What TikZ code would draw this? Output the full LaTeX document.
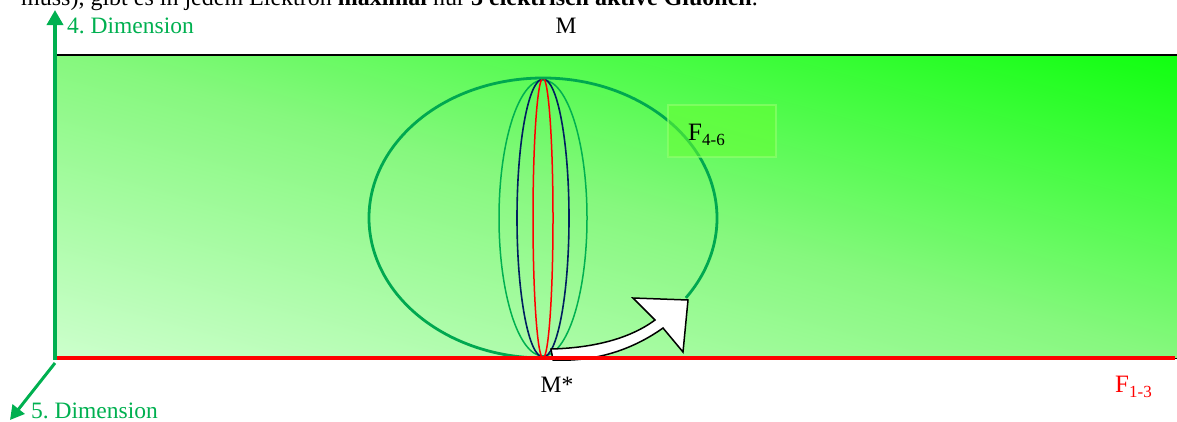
\documentclass[tikz,border=0pt]{standalone}
\usepackage{fontspec}
\setmainfont{Liberation Serif}
\usetikzlibrary{arrows.meta,calc}
\frenchspacing
\definecolor{dimgreen}{HTML}{00B050}
\definecolor{ringgreen}{HTML}{00A850}
\definecolor{navyring}{HTML}{002060}
\definecolor{bgtop}{HTML}{10FF10}
\definecolor{bgmid}{HTML}{86F87E}
\definecolor{bgbot}{HTML}{CCFFCC}
\definecolor{fbox}{HTML}{66FF33}
\tikzset{
  axisline/.style={dimgreen, line width=3.5pt, -{Triangle[width=16pt,length=15pt]}},
  dimlabel/.style={text=dimgreen, inner sep=0pt, anchor=base west, font=\fontsize{23.5}{28}\selectfont},
  plainlabel/.style={inner sep=0pt, anchor=base, font=\fontsize{23.5}{28}\selectfont},
  thinring/.style={line width=1.5pt},
}
\begin{document}
\begin{tikzpicture}[x=1pt,y=-1pt]
\useasboundingbox (0,0) rectangle (1177,421);
\begin{scope}
\clip (0,0) rectangle (1177,421);
\node[inner sep=0pt, anchor=base west, font=\fontsize{24}{28}\selectfont] (toptext) at (21,5) {muss), gibt es in jedem Elektron \textbf{maximal} nur \textbf{3 elektrisch aktive Gluonen}.};
\end{scope}
% background (diagonal gradient)
\begin{scope}
\clip (57,55) rectangle (1177,358);
\shade[transform canvas={rotate around={-15.1:(617,206.5)}}, bottom color=bgbot, top color=bgtop, middle color=bgmid] (-3,-85) rectangle (1237,498);
\end{scope}
% centre
\coordinate (c) at (543,218);
% inner rings
\draw[thinring, dimgreen] (c) ellipse [x radius=44, y radius=138];
\draw[line width=1.6pt, navyring] (c) ellipse [x radius=26, y radius=139];
\draw[thinring, red] (c) ellipse [x radius=10, y radius=140];
% big ring (open arc)
\draw[ringgreen, line width=2.8pt] ($(c)+(34.8:174 and 140)$) arc[start angle=34.8, end angle=-270, x radius=174, y radius=140];
% F 4-6 box
\node[fill=fbox, fill opacity=0.55, draw=fbox!70!white, draw opacity=0.6, line width=1.5pt, minimum width=108pt, minimum height=52pt, inner sep=0pt] (fboxnode) at (722,131) {};
\node[inner sep=0pt, anchor=base west, font=\fontsize{25}{28}\selectfont] (f46) at (688,140) {F\raisebox{-5pt}{\fontsize{17}{17}\selectfont 4-6}};
% white block arrow
\coordinate (a1) at (551,349);
\coordinate (n1) at (655,320);
\coordinate (h1) at (633,298);
\coordinate (h2) at (688,300);
\coordinate (h3) at (683,352);
\coordinate (n2) at (663,328);
\coordinate (b1) at (553,360);
\draw[fill=white, line width=1.5pt, line join=miter] (a1) .. controls (590,348) and (628,340) .. (n1) -- (h1) -- (h2) -- (h3) -- (n2) .. controls (632,350) and (595,362) .. (b1) -- cycle;
% frame lines
\draw[red, line width=3.5pt] (57,358) -- (1175,358);
\draw[black, line width=1pt] (1175,358) -- (1177,358);
\draw[black, line width=2pt] (57,55) -- (1177,55);
% axes
\coordinate (origin) at (55,360);
\coordinate (ytip) at (55,10);
\coordinate (zstart) at (55,363);
\coordinate (ztip) at (10,420);
\draw[axisline] (origin) -- (ytip);
\draw[axisline, line width=3pt, -{Triangle[width=15pt,length=14pt]}] (zstart) -- (ztip);
% labels
\node[dimlabel] (dim4) at (67,33) {4. Dimension};
\node[dimlabel] (dim5) at (31,418) {5. Dimension};
\node[plainlabel] (mtop) at (566,33) {M};
\node[plainlabel] (mbot) at (557,392) {M*};
\node[inner sep=0pt, anchor=base west, text=red, font=\fontsize{25}{28}\selectfont] (f13) at (1115,392) {F\raisebox{-5pt}{\fontsize{17}{17}\selectfont 1-3}};
\end{tikzpicture}
\end{document}
